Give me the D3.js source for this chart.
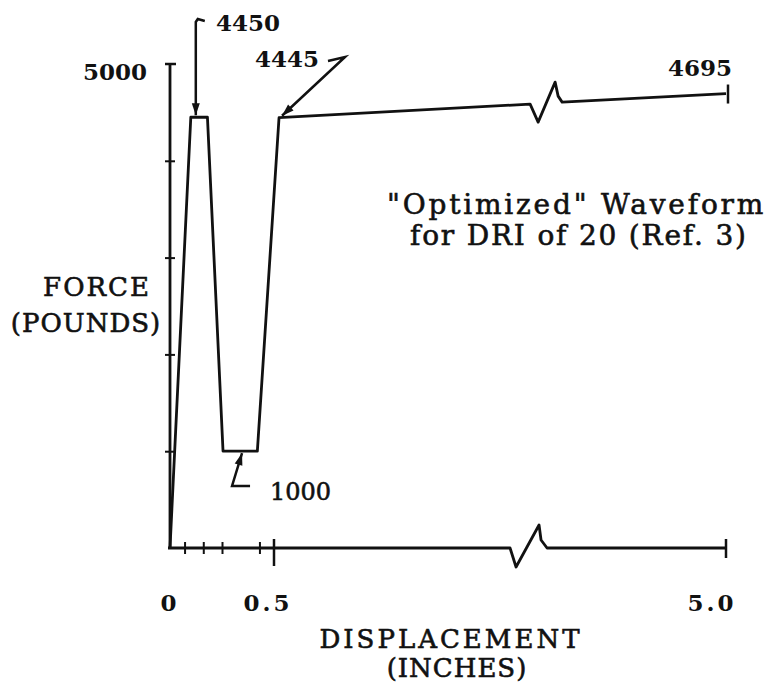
<!DOCTYPE html>
<html>
<head>
<meta charset="utf-8">
<title>Optimized Waveform</title>
<script src="https://cdn.jsdelivr.net/npm/d3@7"></script>
<style>
  body { margin: 0; background: #fff; }
  svg { display: block; }
  .lbl { font-family: "DejaVu Serif", serif; fill: #111; stroke: #111; stroke-width: 0.6px; }
  .num { font-family: "DejaVu Serif", serif; font-weight: bold; fill: #111; }
</style>
</head>
<body>
<div id="chart"></div>
<script>
// waveform corners
var dispInches = [0, 0.10, 0.18, 0.255, 0.42, 0.55, 5.0];
var forcePounds = [0, 4450, 4450, 1000, 1000, 4445, 4695];

// axis ticks
var xMinorTicks = [0.07, 0.16, 0.25, 0.43];
var xTickLabels = [{v: 0, t: "0"}, {v: 0.5, t: "0.5"}, {v: 5.0, t: "5.0"}];
var yTicks = [1000, 2000, 3000, 4000];
var yTopValue = 5000;

// where the lines are broken (inches)
var breakTop = 3.05;
var breakBottom = 2.85;

drawChart();

function drawChart() {
    var svg = d3.select("#chart").append("svg")
        .attr("width", 775)
        .attr("height", 682);

    // broken x axis: 0-0.5 stretched, 0.5-5.0 compressed
    var x = d3.scaleLinear().domain([0, 0.5, 5.0]).range([170, 274, 726]);
    var y = d3.scaleLinear().domain([0, 5000]).range([548, 64]);

    var ink = "#111";

    // ---- y axis
    var yAxis = d3.axisLeft(y).tickValues(yTicks).tickSize(0).tickFormat("");
    var gy = svg.append("g").attr("transform", "translate(" + x(0) + ",0)").call(yAxis);
    gy.select(".domain").remove();
    gy.selectAll(".tick line").attr("x1", -5).attr("x2", 5)
        .attr("stroke", ink).attr("stroke-width", 2);
    svg.append("line")
        .attr("x1", x(0)).attr("x2", x(0))
        .attr("y1", y(0)).attr("y2", y(yTopValue))
        .attr("stroke", ink).attr("stroke-width", 2.8);
    svg.append("line")
        .attr("x1", x(0) - 5).attr("x2", x(0) + 6)
        .attr("y1", y(yTopValue)).attr("y2", y(yTopValue))
        .attr("stroke", ink).attr("stroke-width", 2.5);

    svg.append("text").attr("class", "num")
        .attr("x", x(0) - 23).attr("y", y(yTopValue) + 16)
        .attr("text-anchor", "end").style("font-size", "23px")
        .text(yTopValue);

    // ---- x axis with break
    var bx = x(breakBottom), by = y(0);
    svg.append("path")
        .attr("d", d3.line()([[x(0) - 2, by], [bx, by], [bx + 6, by + 19], [bx + 29, by - 23],
            [bx + 31, by - 8], [bx + 37, by], [x(5.0), by]]))
        .attr("fill", "none").attr("stroke", ink).attr("stroke-width", 2.8)
        .attr("stroke-linejoin", "round");

    var xAxis = d3.axisBottom(x).tickValues(xMinorTicks).tickSize(0).tickFormat("");
    var gx = svg.append("g").attr("transform", "translate(0," + y(0) + ")").call(xAxis);
    gx.select(".domain").remove();
    gx.selectAll(".tick line").attr("y1", -6).attr("y2", 6)
        .attr("stroke", ink).attr("stroke-width", 2);

    svg.append("line").attr("x1", x(0.5)).attr("x2", x(0.5))
        .attr("y1", y(0) - 9).attr("y2", y(0) + 18)
        .attr("stroke", ink).attr("stroke-width", 2.5);
    svg.append("line").attr("x1", x(5.0)).attr("x2", x(5.0))
        .attr("y1", y(0) - 9).attr("y2", y(0) + 10)
        .attr("stroke", ink).attr("stroke-width", 2.5);

    svg.selectAll(".xlab").data(xTickLabels).enter().append("text")
        .attr("class", "num xlab")
        .attr("x", function(d) { return x(d.v) - (d.v === 0 ? 0 : d.v === 5.0 ? 14 : 6); })
        .attr("y", 611)
        .attr("text-anchor", "middle")
        .style("font-size", "23px")
        .style("letter-spacing", "3px")
        .text(function(d) { return d.t; });

    // ---- axis titles
    svg.append("text").attr("class", "lbl").attr("x", 97).attr("y", 296)
        .attr("text-anchor", "middle").style("font-size", "26px").style("letter-spacing", "2px")
        .text("FORCE");
    svg.append("text").attr("class", "lbl").attr("x", 86).attr("y", 332)
        .attr("text-anchor", "middle").style("font-size", "26px").style("letter-spacing", "1px")
        .text("(POUNDS)");
    svg.append("text").attr("class", "lbl").attr("x", 451).attr("y", 648)
        .attr("text-anchor", "middle").style("font-size", "26px").style("letter-spacing", "3px")
        .text("DISPLACEMENT");
    svg.append("text").attr("class", "lbl").attr("x", 457).attr("y", 677)
        .attr("text-anchor", "middle").style("font-size", "26px").style("letter-spacing", "1px")
        .text("(INCHES)");

    // ---- waveform, with a break in the long flat part
    var pts = dispInches.map(function(d, i) { return [x(d), y(forcePounds[i])]; });
    var n = pts.length;
    var a = pts[n - 2], b = pts[n - 1];
    var t = (x(breakTop) - a[0]) / (b[0] - a[0]);
    var k = [x(breakTop), a[1] + t * (b[1] - a[1])];
    var wave = pts.slice(0, n - 1).concat([k, [k[0] + 8, k[1] + 18], [k[0] + 25, k[1] - 22],
        [k[0] + 28, k[1] - 8], [k[0] + 32, k[1] - 2]]).concat([b]);
    svg.append("path")
        .attr("d", d3.line()(wave))
        .attr("fill", "none").attr("stroke", ink).attr("stroke-width", 2.8)
        .attr("stroke-linejoin", "round");
    svg.append("line").attr("x1", b[0] + 2).attr("x2", b[0] + 2)
        .attr("y1", b[1] - 9).attr("y2", b[1] + 10)
        .attr("stroke", ink).attr("stroke-width", 2.5);

    // ---- annotations
    var arrowHead = function(tip, ang) {
        var len = 12, w = 4;
        var ca = Math.cos(ang), sa = Math.sin(ang);
        var p1 = [tip[0] - len * ca + w * sa, tip[1] - len * sa - w * ca];
        var p2 = [tip[0] - len * ca - w * sa, tip[1] - len * sa + w * ca];
        svg.append("path").attr("d", d3.line()([tip, p1, p2]) + "Z").attr("fill", ink);
    };

    // 4450 peak
    var pk = pts[1];
    var pkx = pk[0] + 5;
    svg.append("path")
        .attr("d", d3.line()([[pkx + 9, 21], [pkx + 2, 19], [pkx, 22], [pkx, pk[1] - 2]]))
        .attr("fill", "none").attr("stroke", ink).attr("stroke-width", 2.5);
    arrowHead([pkx, pk[1] - 2], Math.PI / 2);
    svg.append("text").attr("class", "num").attr("x", 216).attr("y", 31)
        .style("font-size", "23px").text(forcePounds[1]);

    // 4445 corner
    var cr = pts[5];
    svg.append("path")
        .attr("d", d3.line()([[328, 61], [345, 57], [cr[0] + 3, cr[1] - 2]]))
        .attr("fill", "none").attr("stroke", ink).attr("stroke-width", 2.5);
    arrowHead([cr[0] + 3, cr[1] - 2], Math.atan2(cr[1] - 2 - 57, cr[0] + 3 - 345));
    svg.append("text").attr("class", "num").attr("x", 255).attr("y", 67)
        .style("font-size", "23px").text(forcePounds[5]);

    // 4695 end
    svg.append("text").attr("class", "num").attr("x", b[0] + 6).attr("y", 76)
        .attr("text-anchor", "end").style("font-size", "23px").text(forcePounds[6]);

    // 1000 trough
    var tr = pts[3];
    var tx = tr[0] + 19;
    svg.append("path")
        .attr("d", d3.line()([[tx, y(1000) + 2], [tx - 10, 486], [tx + 8, 486]]))
        .attr("fill", "none").attr("stroke", ink).attr("stroke-width", 2.5);
    arrowHead([tx, y(1000) + 2], Math.atan2(y(1000) + 2 - 486, 10));
    svg.append("text").attr("class", "lbl").attr("x", 270).attr("y", 500)
        .style("font-size", "24px").text(forcePounds[3]);

    // ---- caption
    svg.append("text").attr("class", "lbl").attr("x", 387).attr("y", 214)
        .style("font-size", "28px").style("letter-spacing", "2.8px")
        .text("\"Optimized\" Waveform");
    svg.append("text").attr("class", "lbl").attr("x", 410).attr("y", 245)
        .style("font-size", "28px").style("letter-spacing", "1.8px")
        .text("for DRI of 20 (Ref. 3)");
}
</script>
</body>
</html>
